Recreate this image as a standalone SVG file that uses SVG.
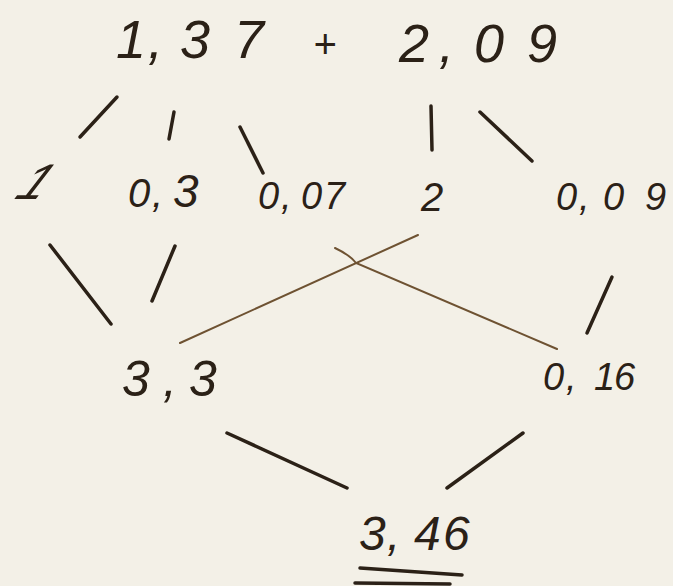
<svg xmlns="http://www.w3.org/2000/svg" width="673" height="586" viewBox="0 0 673 586">
<style>
.t{font-family:"Liberation Sans",Arial,sans-serif;font-style:italic;fill:#2b2117}
.c{stroke:#2b2117;stroke-width:3.5;stroke-linecap:round;fill:none}
.thin{stroke:#6e5232;stroke-width:2;stroke-linecap:round;fill:none}
</style>
<rect width="673" height="586" fill="#f3f0e7"/>
<g id="connectors">
<line class="c" x1="117" y1="97" x2="80" y2="137"/>
<line class="c" x1="174" y1="112" x2="169" y2="139"/>
<line class="c" x1="240" y1="127" x2="263" y2="173"/>
<line class="c" x1="431" y1="106" x2="432" y2="150"/>
<line class="c" x1="480" y1="112" x2="532" y2="161"/>
<line class="c" x1="50" y1="245" x2="111" y2="324"/>
<line class="c" x1="175" y1="246" x2="152" y2="301"/>
<line class="thin" x1="418" y1="235" x2="180" y2="343"/>
<path class="thin" d="M335,248 Q350,255 356,263 L557,349"/>
<line class="c" x1="612" y1="277" x2="587" y2="333"/>
<line class="c" x1="227" y1="433" x2="347" y2="488"/>
<line class="c" x1="523" y1="433" x2="447" y2="488"/>
</g>
<g id="n137"><text class="t" y="58" font-size="54"><tspan x="116">1</tspan><tspan x="148">,</tspan><tspan x="180">3</tspan><tspan x="234">7</tspan></text></g>
<g id="plus"><text class="t" x="313" y="58" font-size="40">+</text></g>
<g id="n209"><text class="t" y="62" font-size="54"><tspan x="399">2</tspan><tspan x="439">,</tspan><tspan x="474">0</tspan><tspan x="527">9</tspan></text></g>
<g id="n1"><text class="t" font-size="50" transform="translate(13,199) skewX(-30)">1</text></g>
<g id="n03"><text class="t" y="207" font-size="40"><tspan x="128">0</tspan><tspan x="152">,</tspan><tspan x="173" font-size="46">3</tspan></text></g>
<g id="n007"><text class="t" y="209" font-size="38"><tspan x="258">0</tspan><tspan x="281">,</tspan><tspan x="301">0</tspan><tspan x="324">7</tspan></text></g>
<g id="n2"><text class="t" x="421" y="211" font-size="40">2</text></g>
<g id="n009"><text class="t" y="210" font-size="38"><tspan x="556">0</tspan><tspan x="579">,</tspan><tspan x="603">0</tspan><tspan x="645">9</tspan></text></g>
<g id="n33"><text class="t" y="396" font-size="50"><tspan x="122">3</tspan><tspan x="163">,</tspan><tspan x="189">3</tspan></text></g>
<g id="n016"><text class="t" y="390" font-size="38"><tspan x="543">0</tspan><tspan x="566">,</tspan><tspan x="594">1</tspan><tspan x="614">6</tspan></text></g>
<g id="n346"><text class="t" y="550" font-size="48"><tspan x="359">3</tspan><tspan x="387">,</tspan><tspan x="414">4</tspan><tspan x="443">6</tspan></text>
<line class="c" x1="360" y1="568" x2="462" y2="575" stroke-width="3"/>
<line class="c" x1="355" y1="583" x2="450" y2="584" stroke-width="3"/>
</g>
</svg>
